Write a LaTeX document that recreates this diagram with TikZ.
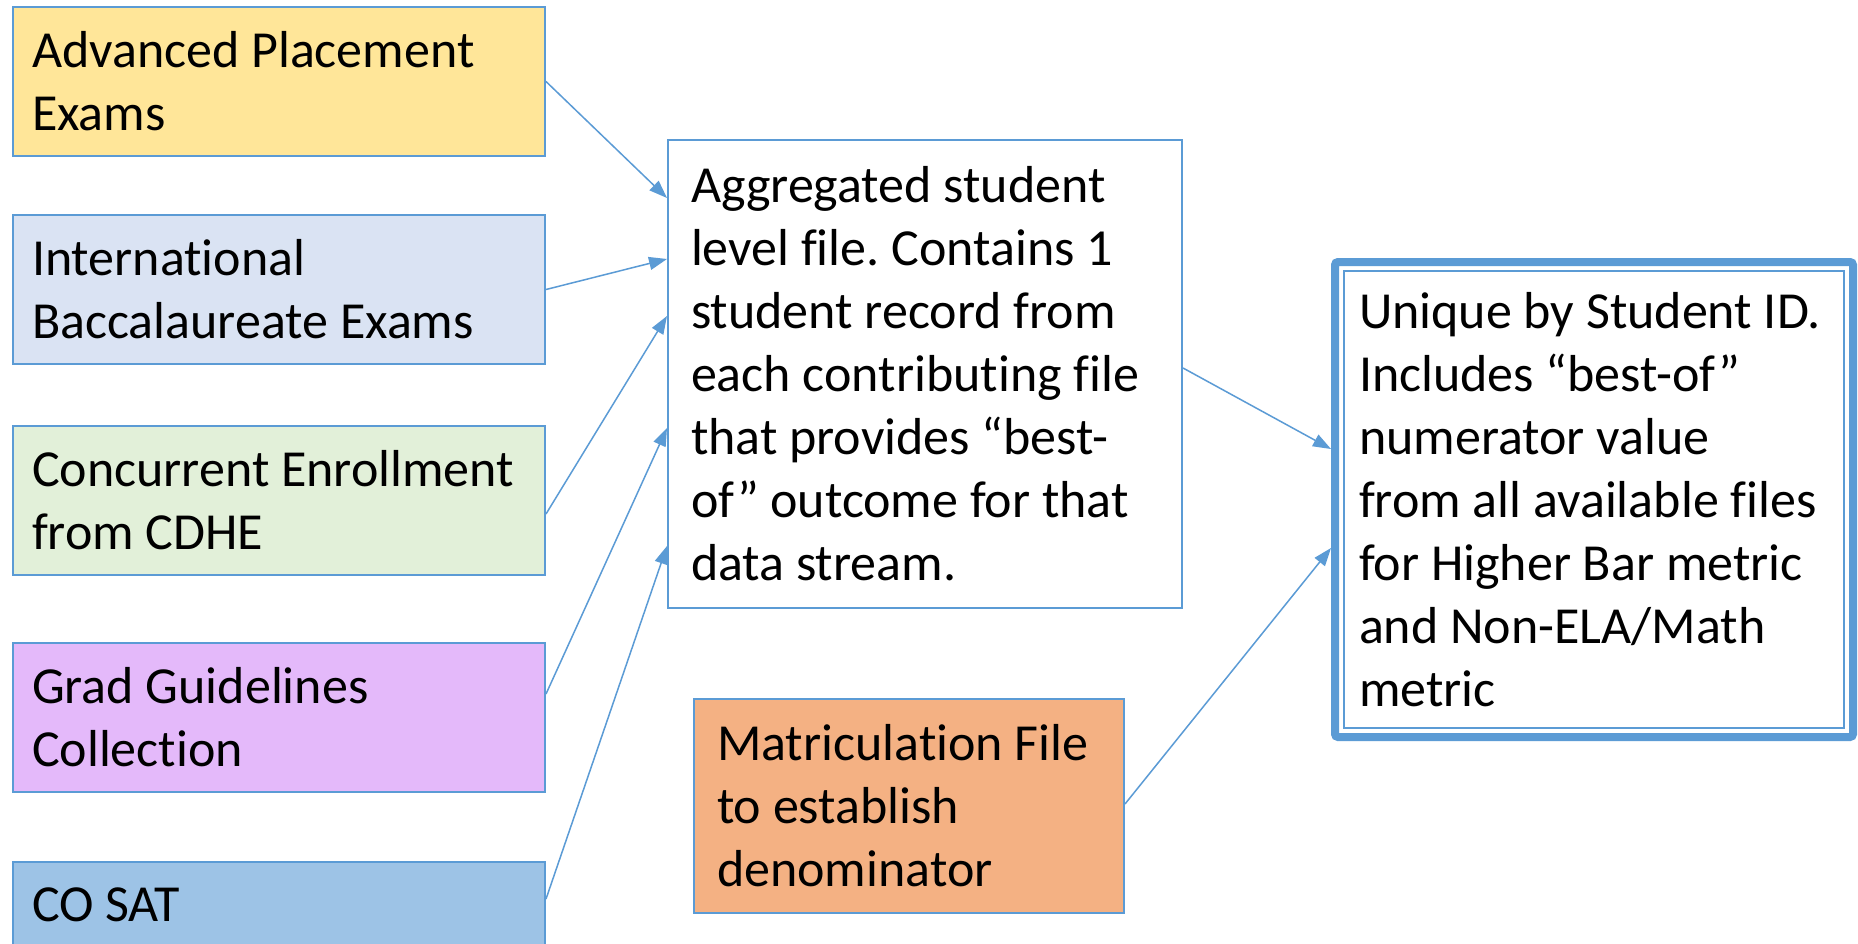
\documentclass[tikz,border=0pt]{standalone}
\usepackage{fontspec}
\setmainfont{Carlito}[Ligatures=NoCommon]
\usetikzlibrary{arrows.meta,fit}
\definecolor{boxblue}{HTML}{5B9BD5}
\definecolor{apfill}{HTML}{FFE699}
\definecolor{ibfill}{HTML}{DAE3F3}
\definecolor{cefill}{HTML}{E2F0D9}
\definecolor{ggfill}{HTML}{E4B9FA}
\definecolor{satfill}{HTML}{9DC3E6}
\definecolor{matfill}{HTML}{F4B183}
\frenchspacing
\begin{document}
\begin{tikzpicture}[x=1pt,y=-1pt,
    box/.style={draw=boxblue,line width=2pt,anchor=north west,align=flush left,
      font=\fontsize{52}{63}\selectfont,inner ysep=0pt},
    src/.style={box,minimum width=532pt,minimum height=149pt,text width=494pt,inner xsep=19pt},
    link/.style={draw=boxblue,line width=1.5pt,-{Triangle[length=18pt,width=13pt]}}]
  \path[use as bounding box,fill=white] (0,0) rectangle (1858,944);
  \node[src,fill=apfill] (ap) at (12,6) {Advanced Placement\\Exams};
  \node[src,fill=ibfill] (ib) at (12,214) {International\\Baccalaureate Exams};
  \node[src,fill=cefill] (ce) at (12,425) {Concurrent Enrollment\\from CDHE};
  \node[src,fill=ggfill] (gg) at (12,642) {Grad Guidelines\\Collection};
  \node[src,fill=satfill] (sat) at (12,861) {CO SAT\\\mbox{}};
  \node[box,fill=white,minimum width=514pt,minimum height=468pt,text width=468pt,inner xsep=23pt]
    (agg) at (667,139) {Aggregated student\\level file. Contains 1\\student record from\\each contributing file\\that provides “best-\\of” outcome for that\\data stream.};
  \node[box,fill=matfill,minimum width=430pt,minimum height=214pt,text width=384pt,inner xsep=23pt]
    (mat) at (693,698) {Matriculation File\\to establish\\denominator};
  \node[box,fill=white,minimum width=500pt,minimum height=457pt,text width=478pt,inner xsep=11pt]
    (uniq) at (1343,270) {\hspace*{4pt}Unique by Student ID.\\\hspace*{4pt}Includes “best-of”\\\hspace*{4pt}numerator value\\\hspace*{4pt}from all available files\\\hspace*{4pt}for Higher Bar metric\\\hspace*{4pt}and Non-ELA/Math\\\hspace*{4pt}metric};
  \node[fit=(uniq),inner sep=8pt,draw=boxblue,line width=8pt,rounded corners=3pt] (frame) {};
  \draw[link] (ap.east) -- ([yshift=176pt]agg.west);
  \draw[link] (ib.east) -- ([yshift=115pt]agg.west);
  \draw[link] ([yshift=-13.5pt]ce.east) -- ([yshift=58pt]agg.west);
  \draw[link] ([yshift=23.5pt]gg.east) -- ([yshift=-54pt]agg.west);
  \draw[link] ([yshift=37.5pt]sat.east) -- ([yshift=-172pt]agg.west);
  \draw[link] ([yshift=6pt]agg.east) -- ([yshift=50.5pt]frame.west);
  \draw[link] ([yshift=2pt]mat.east) -- ([yshift=-48.5pt]frame.west);
\end{tikzpicture}
\end{document}
